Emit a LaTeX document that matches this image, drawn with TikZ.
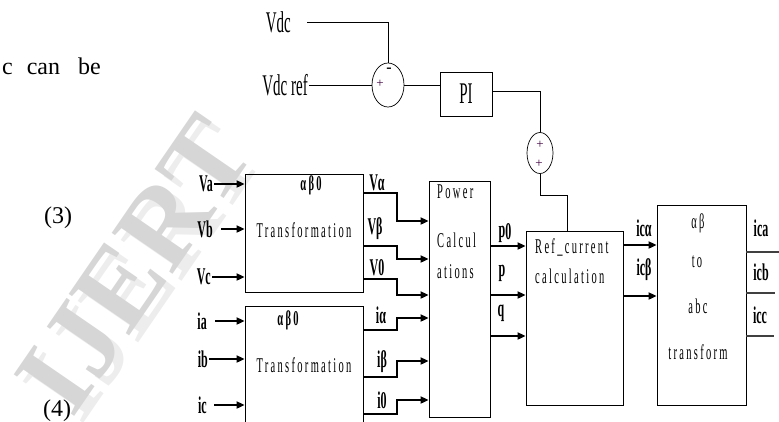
\documentclass[tikz,border=0pt]{standalone}
\usepackage{fontspec}
\setmainfont{Liberation Serif}
\newfontfamily\narrow[FakeStretch=0.5]{Liberation Serif}
\newfontfamily\spaced[FakeStretch=0.5,LetterSpace=11]{Liberation Serif}
\usetikzlibrary{arrows.meta,positioning,shapes.geometric}

\begin{document}
\begin{tikzpicture}[
    x=1pt, y=-1pt,
    box/.style={draw, line width=0.8pt, inner sep=0pt},
    sumj/.style={draw, ellipse, line width=0.7pt, inner sep=0pt},
    lbl/.style={font=\narrow\bfseries\fontsize{24}{24}\selectfont, inner sep=1pt},
    big/.style={font=\narrow\fontsize{30}{30}\selectfont, inner sep=1pt},
    txt/.style={font=\spaced\fontsize{21}{21}\selectfont, inner sep=0pt},
    sgn/.style={font=\fontsize{13}{13}\selectfont, inner sep=0pt, text=violet!50!black},
    arrow/.style={-{Triangle[length=8pt,width=7pt]}, line width=1.8pt},
    wire/.style={line width=0.8pt}
]
\useasboundingbox (0,0) rectangle (779,421);
\clip (0,0) rectangle (779,421);

% watermark and page text
\node[rotate=55.5, text=black!7, font=\bfseries\fontsize{112}{112}\selectfont] (wm2) at (144,272) {IJERT};
\node[rotate=55.5, text=black!16, font=\bfseries\fontsize{112}{112}\selectfont] (wm) at (135,265) {IJERT};
\node[font=\fontsize{24}{24}\selectfont, anchor=east, inner sep=0pt] (cb) at (101,66) {c\hspace{14pt}can\hspace{18pt}be};
\node[font=\fontsize{24}{24}\selectfont, inner sep=0pt] (eq3) at (58,218) {(3)};
\node[font=\fontsize{24}{24}\selectfont, inner sep=0pt] (eq4) at (57,411) {(4)};

% dc-link loop
\node[big, anchor=east] (vdc) at (292,22) {Vdc};
\node[big, anchor=east] (vdcref) at (309,85) {Vdc ref};
\node[sumj, minimum width=32pt, minimum height=44pt] (sumdc) at (388,85) {};
\node[sgn, font=\bfseries\fontsize{16}{16}\selectfont, text=black] at (389,70) {-};
\node[sgn] at (380,84) {+};
\node[box, minimum width=52pt, minimum height=44pt, font=\narrow\fontsize{30}{30}\selectfont] (pi) at (466,94) {PI};
\node[sumj, minimum width=26pt, minimum height=41pt] (sumref) at (540,153) {};
\node[sgn] at (540,145) {+};
\node[sgn] at (539,164) {+};
\coordinate (bend) at (567,195);

\draw[wire, shorten <=15pt] (vdc.east) -| (sumdc.north);
\draw[wire] (vdcref.east) -- (sumdc.west);
\draw[wire] (sumdc.east) -- (sumdc.east -| pi.west);
\draw[wire] ([yshift=3pt]pi.east) -| (sumref.north);
\draw[wire] (sumref.south) |- (bend) -- (bend |- 0,231);

% blocks
\node[box, minimum width=118pt, minimum height=118pt] (tfv) at (304,233) {};
\node[box, minimum width=118pt, minimum height=130pt] (tfi) at (304,371) {};
\node[box, minimum width=61pt, minimum height=236pt] (power) at (459.5,299) {};
\node[box, minimum width=97pt, minimum height=174pt] (refcur) at (574.5,318) {};
\node[box, minimum width=89pt, minimum height=200pt] (abc) at (701.5,305) {};

\node[txt, font=\spaced\bfseries\fontsize{21}{21}\selectfont] at (311,185) {αβ0};
\node[txt] at (304,230) {Transformation};
\node[txt, font=\spaced\bfseries\fontsize{21}{21}\selectfont] at (288,320) {αβ0};
\node[txt] at (304,365) {Transformation};
\node[txt, anchor=west] at (437,192) {Power};
\node[txt, anchor=west] at (437,240) {Calcul};
\node[txt, anchor=west] at (437,272) {ations};
\node[txt, anchor=west] at (535,247) {Ref\_current};
\node[txt, anchor=west] at (535,276) {calculation};
\node[txt] at (698,223) {αβ};
\node[txt] at (697,262) {to};
\node[txt] at (698,306) {abc};
\node[txt] at (698,352) {transform};

% inputs
\node[lbl, anchor=east] (va) at (214,184) {Va};
\node[lbl, anchor=east] (vb) at (214,229) {Vb};
\node[lbl, anchor=east] (vc) at (212,277) {Vc};
\node[lbl, anchor=east] (ia) at (208,321) {ia};
\node[lbl, anchor=east] (ib) at (209,359) {ib};
\node[lbl, anchor=east] (ic) at (208,405) {ic};
\draw[arrow] (va.east) -- (va.east -| tfv.west);
\draw[arrow, shorten <=7pt] (vb.east) -- (vb.east -| tfv.west);
\draw[arrow] (vc.east) -- (vc.east -| tfv.west);
\draw[arrow, shorten <=7pt] (ia.east) -- (ia.east -| tfi.west);
\draw[arrow] (ib.east) -- (ib.east -| tfi.west);
\draw[arrow, shorten <=6pt] (ic.east) -- (ic.east -| tfi.west);

% alpha-beta-zero outputs
\node[lbl] (valpha) at (377,183) {Vα};
\node[lbl] (vbeta) at (375,229) {Vβ};
\node[lbl] (vzero) at (377,268) {V0};
\node[lbl] (ialpha) at (381,315) {iα};
\node[lbl] (ibeta) at (382,362) {iβ};
\node[lbl] (izero) at (382,400) {i0};
\draw[arrow] (tfv.east |- 0,193) -- (397,193) |- (power.west |- 0,221);
\draw[arrow] (tfv.east |- 0,246) -- (397,246) |- (power.west |- 0,259);
\draw[arrow] (tfv.east |- 0,279) -- (397,279) |- (power.west |- 0,295);
\draw[arrow] (tfi.east |- 0,330) -- (397,330) |- (power.west |- 0,318);
\draw[arrow] (tfi.east |- 0,377) -- (397,377) |- (power.west |- 0,361);
\draw[arrow] (tfi.east |- 0,414) -- (397,414) |- (power.west |- 0,400);

% powers
\node[lbl] (pz) at (505,233) {p\raisebox{-2pt}{0}};
\node[lbl] (pp) at (502,273) {p};
\node[lbl] (qq) at (501,313) {q};
\draw[arrow] (power.east |- 0,246) -- (refcur.west |- 0,246);
\draw[arrow] (power.east |- 0,295) -- (refcur.west |- 0,295);
\draw[arrow] (power.east |- 0,336) -- (refcur.west |- 0,336);

% reference currents
\node[lbl] (icalpha) at (644,228) {icα};
\node[lbl] (icbeta) at (644,270) {icβ};
\draw[arrow] (refcur.east |- 0,245) -- (abc.west |- 0,245);
\draw[arrow] (refcur.east |- 0,296) -- (abc.west |- 0,296);

\node[lbl] (ica) at (761,228) {ica};
\node[lbl] (icb) at (761,272) {icb};
\node[lbl] (icc) at (760,315) {icc};
\draw[wire, line width=1.2pt, black!75] (abc.east |- 0,252) -- ++(33,0);
\draw[wire, line width=1.2pt, black!75] (abc.east |- 0,293) -- ++(29,0);
\draw[wire, line width=1.2pt, black!75] (abc.east |- 0,336) -- ++(28,0);
\end{tikzpicture}
\end{document}
